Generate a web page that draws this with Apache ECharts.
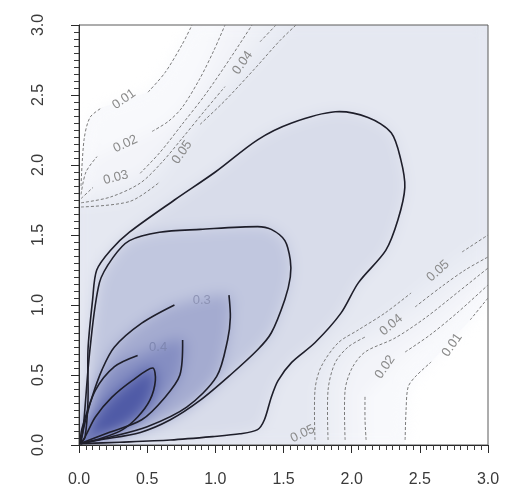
<!DOCTYPE html>
<html>
<head>
<meta charset="utf-8">
<script src="https://cdn.jsdelivr.net/npm/echarts@6/dist/echarts.min.js"></script>
<style>
  html, body { margin: 0; padding: 0; background: #ffffff; }
  #stage { position: relative; width: 517px; height: 500px; }
  .layer { position: absolute; left: 0; top: 0; width: 517px; height: 500px; }
  #softWrap { position: absolute; left: 79px; top: 25px; width: 409px; height: 420px; overflow: hidden; }
  #softFill { position: absolute; left: -79px; top: -25px; width: 517px; height: 500px; filter: blur(7px); }
</style>
</head>
<body>
<div id="stage">
  <div id="baseFill" class="layer"></div>
  <div id="softWrap"><div id="softFill"></div></div>
  <div id="chart" class="layer"></div>
</div>
<script>
// Axis tick labels
const xTicks = [0.0, 0.5, 1.0, 1.5, 2.0, 2.5, 3.0];
const yTicks = [0.0, 0.5, 1.0, 1.5, 2.0, 2.5, 3.0];

// Solid density contours (levels 0.1 .. 0.5); null marks a gap left for a label
const contour010 = [[0.01,0.01],[0.044,0.057],[0.066,0.32],[0.066,0.68],[0.10,1.04],[0.13,1.25],[0.23,1.39],[0.37,1.52],[0.70,1.75],[1.00,1.95],[1.31,2.18],[1.56,2.30],[1.88,2.38],[2.12,2.34],[2.29,2.23],[2.36,2.04],[2.39,1.84],[2.34,1.61],[2.25,1.39],[2.05,1.16],[1.92,0.94],[1.73,0.73],[1.56,0.59],[1.46,0.46],[1.41,0.34],[1.36,0.18],[1.31,0.11],[1.18,0.08],[0.98,0.06],[0.67,0.036],[0.30,0.02],[0.01,0.01]];
const contour020 = [[0.01,0.01],[0.03,0.11],[0.08,0.68],[0.15,1.16],[0.25,1.34],[0.37,1.46],[0.59,1.52],[0.89,1.54],[1.31,1.56],[1.41,1.54],[1.51,1.46],[1.55,1.32],[1.55,1.20],[1.51,1.04],[1.41,0.80],[1.31,0.68],[1.11,0.50],[0.89,0.32],[0.67,0.18],[0.45,0.09],[0.15,0.036],[0.01,0.01]];
const contour030 = [[0.01,0.01],[0.044,0.16],[0.095,0.34],[0.17,0.54],[0.26,0.70],[0.46,0.87],[0.70,1.00],null,[1.10,1.07],[1.11,0.91],[1.09,0.75],[1.01,0.49],[0.79,0.27],[0.50,0.13],[0.23,0.057],[0.01,0.01]];
const contour040 = [[0.01,0.01],[0.02,0.11],[0.12,0.39],[0.26,0.56],[0.43,0.64],null,[0.76,0.75],[0.74,0.50],[0.63,0.34],[0.46,0.18],[0.21,0.086],[0.01,0.01]];
const contour050 = [[0.01,0.01],[0.044,0.057],[0.12,0.20],[0.24,0.34],[0.39,0.46],[0.54,0.55],[0.56,0.46],[0.52,0.32],[0.43,0.20],[0.32,0.11],[0.17,0.05],[0.01,0.01]];

// Dashed low-density contours: upper-left branch and lower-right branch of each level
const upper001 = [[0.015,1.85],[0.037,2.18],[0.081,2.34],[0.169,2.41],null,[0.506,2.52],[0.631,2.66],[0.756,2.86],[0.829,3.0]];
const upper002 = [[0.015,1.79],[0.051,1.95],[0.132,2.06],null,[0.536,2.24],[0.653,2.31],[0.756,2.41],[0.888,2.62],[0.99,2.82],[1.071,3.0]];
const upper003 = [[0.015,1.76],[0.103,1.84],null,[0.448,1.94],[0.594,2.09],[0.756,2.29],[0.924,2.50],[1.108,2.76],[1.269,3.0]];
const upper004 = [[0.015,1.73],[0.227,1.77],[0.448,1.87],[0.609,2.02],[0.756,2.19],[0.924,2.39],[1.071,2.56],null,[1.328,2.88],[1.445,3.0]];
const upper005 = [[0.015,1.70],[0.374,1.74],[0.594,1.88],null,[0.888,2.29],[1.071,2.46],[1.291,2.69],[1.475,2.89],[1.592,3.0]];

const lower001 = [[2.392,0.036],[2.399,0.25],[2.414,0.414],[2.465,0.486],[2.583,0.593],null,[2.869,0.893],[3.0,1.05]];
const lower002 = [[2.106,0.036],[2.098,0.179],[2.098,0.357],null,[2.392,0.664],[2.575,0.786],[2.781,0.95],[3.0,1.143]];
const lower003 = [[1.952,0.036],[1.952,0.393],[2.003,0.55],[2.098,0.664],[2.318,0.764],[2.539,0.907],[2.781,1.093],[3.0,1.264]];
const lower004 = [[1.827,0.036],[1.827,0.393],[1.878,0.586],[1.974,0.70],[2.098,0.771],null,[2.465,0.986],[2.656,1.129],[2.832,1.25],[3.0,1.343]];
const lower005 = [[1.731,0.036],[1.731,0.393],[1.775,0.557],[1.90,0.729],[2.047,0.821],[2.245,0.943],[2.436,1.086],null,[2.81,1.379],[3.0,1.50]];

// Contour labels: position and text
const contourLabels = [
  [0.33, 2.47, '0.01'], [0.34, 2.15, '0.02'], [0.27, 1.91, '0.03'],
  [1.20, 2.73, '0.04'], [0.756, 2.09, '0.05'],
  [2.737, 0.714, '0.01'], [2.245, 0.557, '0.02'], [2.29, 0.857, '0.04'],
  [2.634, 1.243, '0.05'], [1.64, 0.08, '0.05'],
  [0.90, 1.03, '0.3'], [0.58, 0.70, '0.4']
];

// ---- presentation ----
const labelAngles = [35, 25, 15, 55, 55, 55, 55, 40, 42, 25, 0, 0];
const labelColors = ['#8a8a8a','#8a8a8a','#8a8a8a','#8a8a8a','#8a8a8a','#8a8a8a','#8a8a8a','#8a8a8a','#8a8a8a','#8a8a8a','#8d93b4','#7e86b0'];

const xMin = xTicks[0], xMax = xTicks[xTicks.length - 1];
const yMin = yTicks[0], yMax = yTicks[yTicks.length - 1];

const dashedLevels = [
  { upper: upper001, lower: lower001, fill: '#f8f9fc' },
  { upper: upper002, lower: lower002, fill: '#f3f4f9' },
  { upper: upper003, lower: lower003, fill: '#eef0f6' },
  { upper: upper004, lower: lower004, fill: '#e9ecf4' },
  { upper: upper005, lower: lower005, fill: '#e5e8f1' }
];
const solidLevels = [
  { path: contour010, fill: '#d8dcea' },
  { path: contour020, fill: '#c1c7df' },
  { path: contour030, fill: '#a4abd0' },
  { path: contour040, fill: '#858ec2' },
  { path: contour050, fill: '#4f5aa6' }
];

function points(path) { return path.filter(p => p !== null); }
function segments(path) {
  const out = [[]];
  path.forEach(p => { if (p === null) out.push([]); else out[out.length - 1].push(p); });
  return out.filter(s => s.length > 1);
}
function bandPolygon(upper, lower) {
  const u = points(upper), l = points(lower);
  return [[xMin, u[0][1]], ...u, [xMax, yMax], ...l.slice().reverse(), [l[0][0], yMin], [xMin, yMin]];
}

const fills = [];
dashedLevels.forEach(d => fills.push({ pts: bandPolygon(d.upper, d.lower), color: d.fill, smooth: 0 }));
solidLevels.forEach(s => fills.push({ pts: points(s.path), color: s.fill, smooth: 0.3 }));

const lines = [];
dashedLevels.forEach(d => {
  segments(d.upper).concat(segments(d.lower)).forEach(seg =>
    lines.push({ pts: seg, color: '#7a7a7a', width: 1, dash: [3, 2] }));
});
solidLevels.forEach(s => {
  segments(s.path).forEach(seg => lines.push({ pts: seg, color: '#1e1e2a', width: 1.6, dash: null }));
});

const gridBox = { left: 79, right: 29, top: 25, bottom: 55 };

const axisCommon = {
  type: 'value',
  interval: 0.5,
  splitLine: { show: false },
  axisLine: { show: true, onZero: false, lineStyle: { color: '#2a2a2a', width: 1 } },
  axisTick: { show: true, inside: false, length: 8, lineStyle: { color: '#2a2a2a', width: 1 } },
  minorTick: { show: true, splitNumber: 10, length: 5, lineStyle: { color: '#3a3a3a', width: 1 } },
  axisLabel: {
    fontFamily: 'Liberation Sans, Arial, sans-serif',
    fontSize: 16,
    color: '#3a3a3a',
    formatter: v => v.toFixed(1)
  }
};

// Filled density bands
function fillSeries() {
  return {
    type: 'custom',
    coordinateSystem: 'cartesian2d',
    clip: true,
    silent: true,
    data: fills.map(f => f.pts[0]),
    renderItem: (params, api) => {
      const f = fills[params.dataIndex];
      return {
        type: 'polygon',
        shape: { points: f.pts.map(p => api.coord(p)), smooth: f.smooth },
        style: { fill: f.color, stroke: null }
      };
    }
  };
}
function fillOption() {
  return {
    animation: false,
    grid: Object.assign({ show: false }, gridBox),
    xAxis: { type: 'value', min: xMin, max: xMax, show: false },
    yAxis: { type: 'value', min: yMin, max: yMax, show: false },
    series: [fillSeries()]
  };
}

echarts.init(document.getElementById('baseFill')).setOption(fillOption());
echarts.init(document.getElementById('softFill')).setOption(fillOption());

// Contour lines, labels, axes and frame
const chart = echarts.init(document.getElementById('chart'));
chart.setOption({
  animation: false,
  grid: Object.assign({ show: true, borderColor: '#5a5a5a', borderWidth: 1, backgroundColor: 'transparent' }, gridBox),
  xAxis: Object.assign({}, axisCommon, {
    min: xMin, max: xMax,
    axisLabel: Object.assign({}, axisCommon.axisLabel, { margin: 27 })
  }),
  yAxis: Object.assign({}, axisCommon, {
    min: yMin, max: yMax,
    axisLabel: Object.assign({}, axisCommon.axisLabel, { margin: 32, rotate: 90 })
  }),
  series: [
    {
      type: 'custom',
      coordinateSystem: 'cartesian2d',
      clip: true,
      silent: true,
      z: 2,
      data: lines.map(l => l.pts[0]),
      renderItem: (params, api) => {
        const l = lines[params.dataIndex];
        return {
          type: 'polyline',
          shape: { points: l.pts.map(p => api.coord(p)), smooth: 0.3 },
          style: { fill: null, stroke: l.color, lineWidth: l.width, lineDash: l.dash }
        };
      }
    },
    {
      type: 'custom',
      coordinateSystem: 'cartesian2d',
      clip: true,
      silent: true,
      z: 3,
      data: contourLabels.map(c => [c[0], c[1]]),
      renderItem: (params, api) => {
        const c = contourLabels[params.dataIndex];
        const pt = api.coord([c[0], c[1]]);
        return {
          type: 'text',
          x: pt[0], y: pt[1],
          rotation: labelAngles[params.dataIndex] * Math.PI / 180,
          style: {
            text: c[2],
            fill: labelColors[params.dataIndex],
            font: '13px "Liberation Sans", Arial, sans-serif',
            align: 'center',
            verticalAlign: 'middle'
          }
        };
      }
    }
  ]
});
</script>
</body>
</html>
